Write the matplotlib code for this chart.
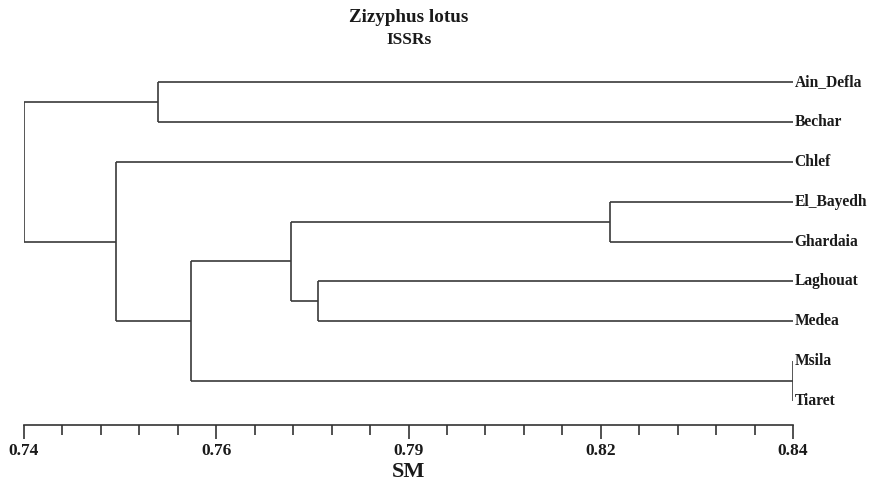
import matplotlib
matplotlib.use("Agg")
import matplotlib.pyplot as plt
from matplotlib.ticker import FixedLocator, MultipleLocator

# ---- data ----
title = "Zizyphus lotus"
subtitle = "ISSRs"
xlabel = "SM"
leaves = ["Ain_Defla", "Bechar", "Chlef", "El_Bayedh", "Ghardaia",
          "Laghouat", "Medea", "Msila", "Tiaret"]
# merges: children refer to leaf index (0..8) or to earlier merge as 9+k
merge_left = [7, 3, 5, 10, 12, 0, 2, 14]
merge_right = [8, 4, 6, 11, 9, 1, 13, 15]
merge_sim = [0.84, 0.8162, 0.7782, 0.7747, 0.7617, 0.7574, 0.7520, 0.7400]
leaf_sim = 0.84
major_ticks = [0.74, 0.765, 0.79, 0.815, 0.84]
major_labels = ["0.74", "0.76", "0.79", "0.82", "0.84"]

# ---- figure ----
fig = plt.figure(figsize=(8.7, 4.83), dpi=100)
ax = fig.add_axes([24 / 870, (483 - 425) / 483, 769 / 870, (425 - 60) / 483])

serif = ["Liberation Serif", "DejaVu Serif"]
line_kw = dict(color="#3a3a3a", lw=1.2, solid_capstyle="butt")

n = len(leaves)
ypos = {i: (n - 1 - i) for i in range(n)}
xpos = {i: leaf_sim for i in range(n)}
for k, (a, b, s) in enumerate(zip(merge_left, merge_right, merge_sim)):
    node = n + k
    ya, yb = ypos[a], ypos[b]
    ax.plot([xpos[a], s], [ya, ya], **line_kw)
    ax.plot([xpos[b], s], [yb, yb], **line_kw)
    ax.plot([s, s], [ya, yb], **line_kw)
    ypos[node] = (ya + yb) / 2
    xpos[node] = s

for i, name in enumerate(leaves):
    ax.text(leaf_sim + 0.0002, ypos[i], name, ha="left", va="center",
            fontsize=11.2, fontweight="bold", family=serif, color="#1a1a1a")

ax.set_xlim(0.74, 0.84)
ax.set_ylim(-0.6, 8.55)
for sp in ["top", "right", "left"]:
    ax.spines[sp].set_visible(False)
ax.spines["bottom"].set_color("#333333")
ax.spines["bottom"].set_linewidth(1.2)
ax.set_yticks([])
ax.xaxis.set_major_locator(FixedLocator(major_ticks))
ax.set_xticklabels(major_labels)
ax.xaxis.set_minor_locator(MultipleLocator(0.005))
ax.tick_params(axis="x", which="major", length=10, width=1.2, color="#333333",
               direction="out", pad=3)
ax.tick_params(axis="x", which="minor", length=7, width=1.2, color="#333333",
               direction="out")
for lab in ax.get_xticklabels():
    lab.set_fontfamily(serif)
    lab.set_fontweight("bold")
    lab.set_fontsize(12.5)
    lab.set_color("#1a1a1a")
ax.set_xlabel(xlabel, fontsize=16, fontweight="bold", family=serif, labelpad=2,
              color="#1a1a1a")

fig.text(409 / 870, 1 - 17 / 483, title, ha="center", va="center",
         fontsize=13.7, fontweight="bold", family=serif, color="#1a1a1a")
fig.text(409 / 870, 1 - 40 / 483, subtitle, ha="center", va="center",
         fontsize=12.5, fontweight="bold", family=serif, color="#1a1a1a")

fig.savefig("out.png", dpi=100)
